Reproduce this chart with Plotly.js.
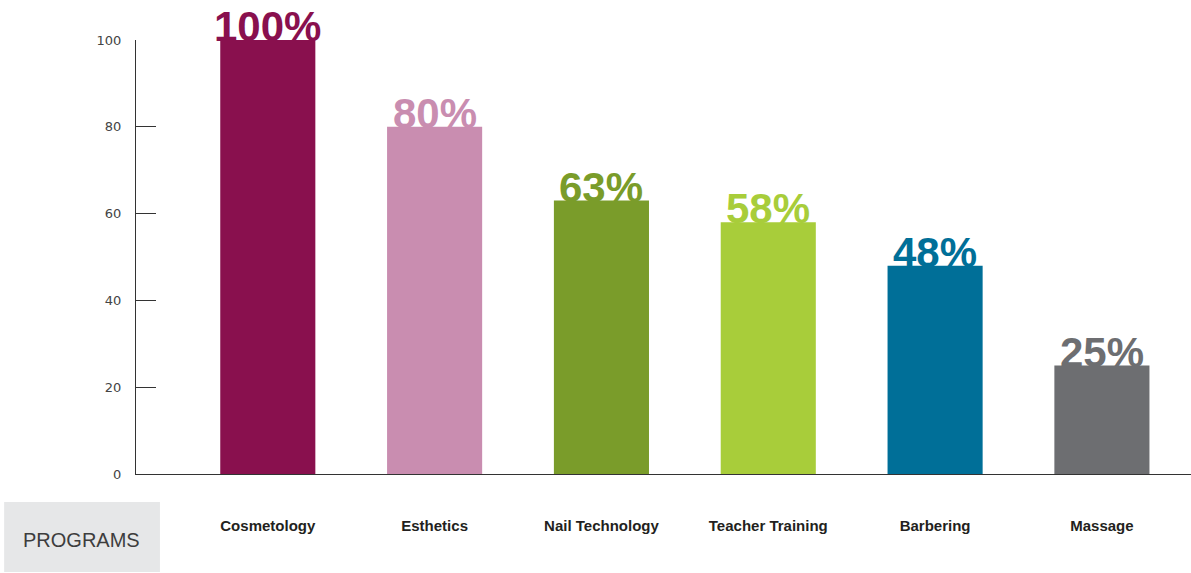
<!DOCTYPE html>
<html><head><meta charset="utf-8">
<script src="https://cdn.plot.ly/plotly-3.0.1.min.js"></script>
<style>body{margin:0;background:#fff}#chart{width:1191px;height:573px}</style>
</head><body><div id="chart"></div>
<script>
const categories = ["Cosmetology", "Esthetics", "Nail Technology", "Teacher Training", "Barbering", "Massage"];
const values = [100, 80, 63, 58, 48, 25];
const labels = ["100%", "80%", "63%", "58%", "48%", "25%"];
const colors = ["#89104e", "#c98db0", "#7a9c2a", "#a8cd3a", "#006f98", "#6d6e71"];
const yTicks = [0, 20, 40, 60, 80, 100];

const trace = {
  type: "bar", x: categories, y: values,
  marker: {color: colors}, hoverinfo: "skip", cliponaxis: false
};
const annotations = categories.map((c, i) => ({
  x: c, y: values[i], xref: "x", yref: "y", text: labels[i], showarrow: false,
  yanchor: "bottom", yshift: -12,
  font: {family: "Liberation Sans, Arial, sans-serif", size: 42, color: colors[i], weight: "bold"}
}));
annotations.push({
  xref: "paper", yref: "paper", x: -0.0512, y: -0.152, text: "PROGRAMS", showarrow: false,
  xanchor: "center", yanchor: "middle",
  font: {family: "Liberation Sans, Arial, sans-serif", size: 20, color: "#3d3d3d"}
});
const layout = {
  width: 1191, height: 573,
  margin: {l: 136, r: 0, t: 40, b: 99},
  paper_bgcolor: "#fff", plot_bgcolor: "#fff",
  bargap: 0.43, showlegend: false,
  xaxis: {
    type: "category", range: [-0.79, 5.534], showgrid: false, zeroline: false,
    showline: true, linecolor: "#333", linewidth: 1, ticks: "",
    ticklabelstandoff: 38,
    tickfont: {family: "Liberation Sans, Arial, sans-serif", size: 15, color: "#231f20", weight: "bold"}
  },
  yaxis: {
    range: [0, 100], tickvals: yTicks, ticktext: yTicks.map(String),
    showgrid: false, zeroline: false, showline: true, linecolor: "#333", linewidth: 1,
    ticks: "inside", ticklen: 20, tickcolor: "#333", tickwidth: 1,
    ticklabelstandoff: 11,
    tickfont: {family: "DejaVu Sans, sans-serif", size: 13, color: "#444"}
  },
  shapes: [{
    type: "rect", xref: "paper", yref: "paper", x0: -0.125, x1: 0.0227, y0: -0.0645, y1: -0.2258,
    fillcolor: "#e6e7e8", line: {width: 0}, layer: "below"
  }],
  annotations: annotations
};
Plotly.newPlot("chart", [trace], layout, {displayModeBar: false, staticPlot: true});
</script></body></html>
